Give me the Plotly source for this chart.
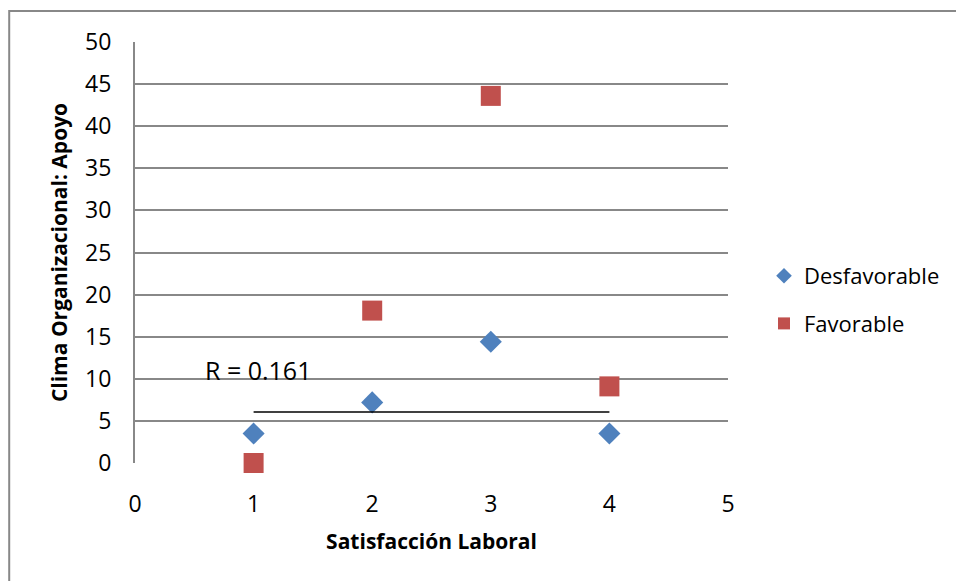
import plotly.graph_objects as go

# Data
x_vals = [1, 2, 3, 4]
desfavorable = [3.5, 7.2, 14.4, 3.5]
favorable = [0, 18.1, 43.6, 9.1]
trend_x = [1, 4]
trend_y = [6.05, 6.05]
r_label = "R = 0.161"
x_ticks = [0, 1, 2, 3, 4, 5]
y_ticks = [0, 5, 10, 15, 20, 25, 30, 35, 40, 45, 50]

W, H = 956, 581
L, R, T, B = 135, 227, 42, 118
pw, ph = W - L - R, H - T - B

FONT = "Open Sans"
GRID = "#888888"

fig = go.Figure()
fig.add_trace(go.Scatter(
    x=x_vals, y=desfavorable, mode="markers", name="Desfavorable", legendgroup="a",
    marker=dict(symbol="diamond", size=17, color="#4F81BD"), cliponaxis=False))
fig.add_trace(go.Scatter(
    x=x_vals, y=favorable, mode="markers", name="Favorable", legendgroup="b",
    marker=dict(symbol="square", size=20, color="#C0504D"), cliponaxis=False))
fig.add_trace(go.Scatter(
    x=trend_x, y=trend_y, mode="lines", showlegend=False,
    line=dict(color="black", width=1.5), hoverinfo="skip"))

fig.add_annotation(x=0.6, y=11.0, text=r_label, showarrow=False,
                   xanchor="left", yanchor="middle", xshift=-3,
                   font=dict(family=FONT, size=25, color="black"))

# outer chart border (only top and left visible)
fig.add_shape(type="rect", xref="paper", yref="paper",
              x0=(9 - L) / pw, x1=2.0, y0=-1.0, y1=1 + (T - 11) / ph,
              line=dict(color=GRID, width=2), layer="below")
# small extension of the y=10 gridline
fig.add_shape(type="line", xref="x", yref="y", x0=5, x1=5.05, y0=10, y1=10,
              line=dict(color=GRID, width=2))

fig.update_layout(
    width=W, height=H,
    margin=dict(l=L, r=R, t=T, b=B),
    paper_bgcolor="white", plot_bgcolor="white",
    font=dict(family=FONT, color="black"),
    legend=dict(x=1 + (764 - L - pw) / pw, y=(463 - 300) / ph, yanchor="middle", xanchor="left",
                font=dict(family=FONT, size=22), itemsizing="constant",
                tracegroupgap=16, bgcolor="rgba(0,0,0,0)"),
    xaxis=dict(range=[0, 5], tickvals=x_ticks, showgrid=False, zeroline=False,
               showline=False, ticks="", tickfont=dict(size=23),
               ticklabelstandoff=25,
               title=dict(text="<b>Satisfacción Laboral</b>", font=dict(size=21), standoff=16)),
    yaxis=dict(range=[0, 50], tickvals=y_ticks, showgrid=True, gridcolor=GRID, gridwidth=2,
               zeroline=False, showline=True, linecolor=GRID, linewidth=2, ticks="",
               tickfont=dict(size=23), ticklabelstandoff=17,
               title=dict(text="<b>Clima Organizacional: Apoyo</b>", font=dict(size=21), standoff=12)),
    showlegend=True,
)

fig.write_html("out.html")
